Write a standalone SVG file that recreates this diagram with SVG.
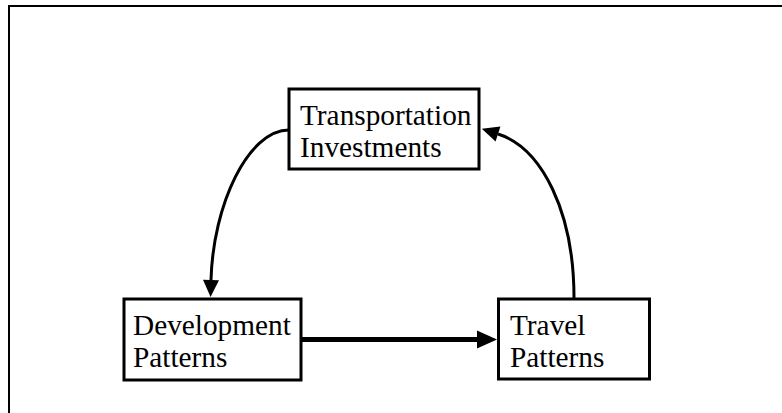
<svg xmlns="http://www.w3.org/2000/svg" width="782" height="413" viewBox="0 0 782 413">
  <style>
    .box { fill: #ffffff; stroke: #000000; stroke-width: 3; }
    .label { font-family: "Liberation Serif", "Times New Roman", serif; font-size: 29.3px; fill: #000000; }
    .curve { fill: none; stroke: #000000; stroke-width: 3; }
    .bold { fill: none; stroke: #000000; stroke-width: 5; }
  </style>
  <defs>
    <marker id="head" markerUnits="userSpaceOnUse" markerWidth="18" markerHeight="16" refX="0" refY="8" orient="auto" overflow="visible">
      <path d="M0,0 L17,8 L0,16 z" fill="#000000"/>
    </marker>
    <marker id="headBold" markerUnits="userSpaceOnUse" markerWidth="21" markerHeight="18" refX="0" refY="9" orient="auto" overflow="visible">
      <path d="M0,0 L20,9 L0,18 z" fill="#000000"/>
    </marker>
  </defs>

  <rect width="782" height="413" fill="#ffffff"/>
  <!-- outer frame -->
  <path d="M9,420 V6 H790" fill="none" stroke="#000000" stroke-width="2"/>

  <g id="connectors">
    <path class="curve" d="M289,130 C248,130 213,205 211,280" marker-end="url(#head)"/>
    <path class="curve" d="M574,298 C574,212 542,148 498,134" marker-end="url(#head)"/>
    <path class="bold" d="M302,339.5 H477" marker-end="url(#headBold)"/>
  </g>

  <g id="transportation-investments">
    <rect class="box" x="289" y="89" width="190" height="80"/>
    <text class="label" x="300" y="125">Transportation</text>
    <text class="label" x="300" y="157">Investments</text>
  </g>

  <g id="development-patterns">
    <rect class="box" x="124" y="299" width="177" height="81"/>
    <text class="label" x="133" y="335">Development</text>
    <text class="label" x="133" y="367">Patterns</text>
  </g>

  <g id="travel-patterns">
    <rect class="box" x="498.5" y="299" width="151" height="80"/>
    <text class="label" x="510" y="335">Travel</text>
    <text class="label" x="510" y="367">Patterns</text>
  </g>
</svg>
